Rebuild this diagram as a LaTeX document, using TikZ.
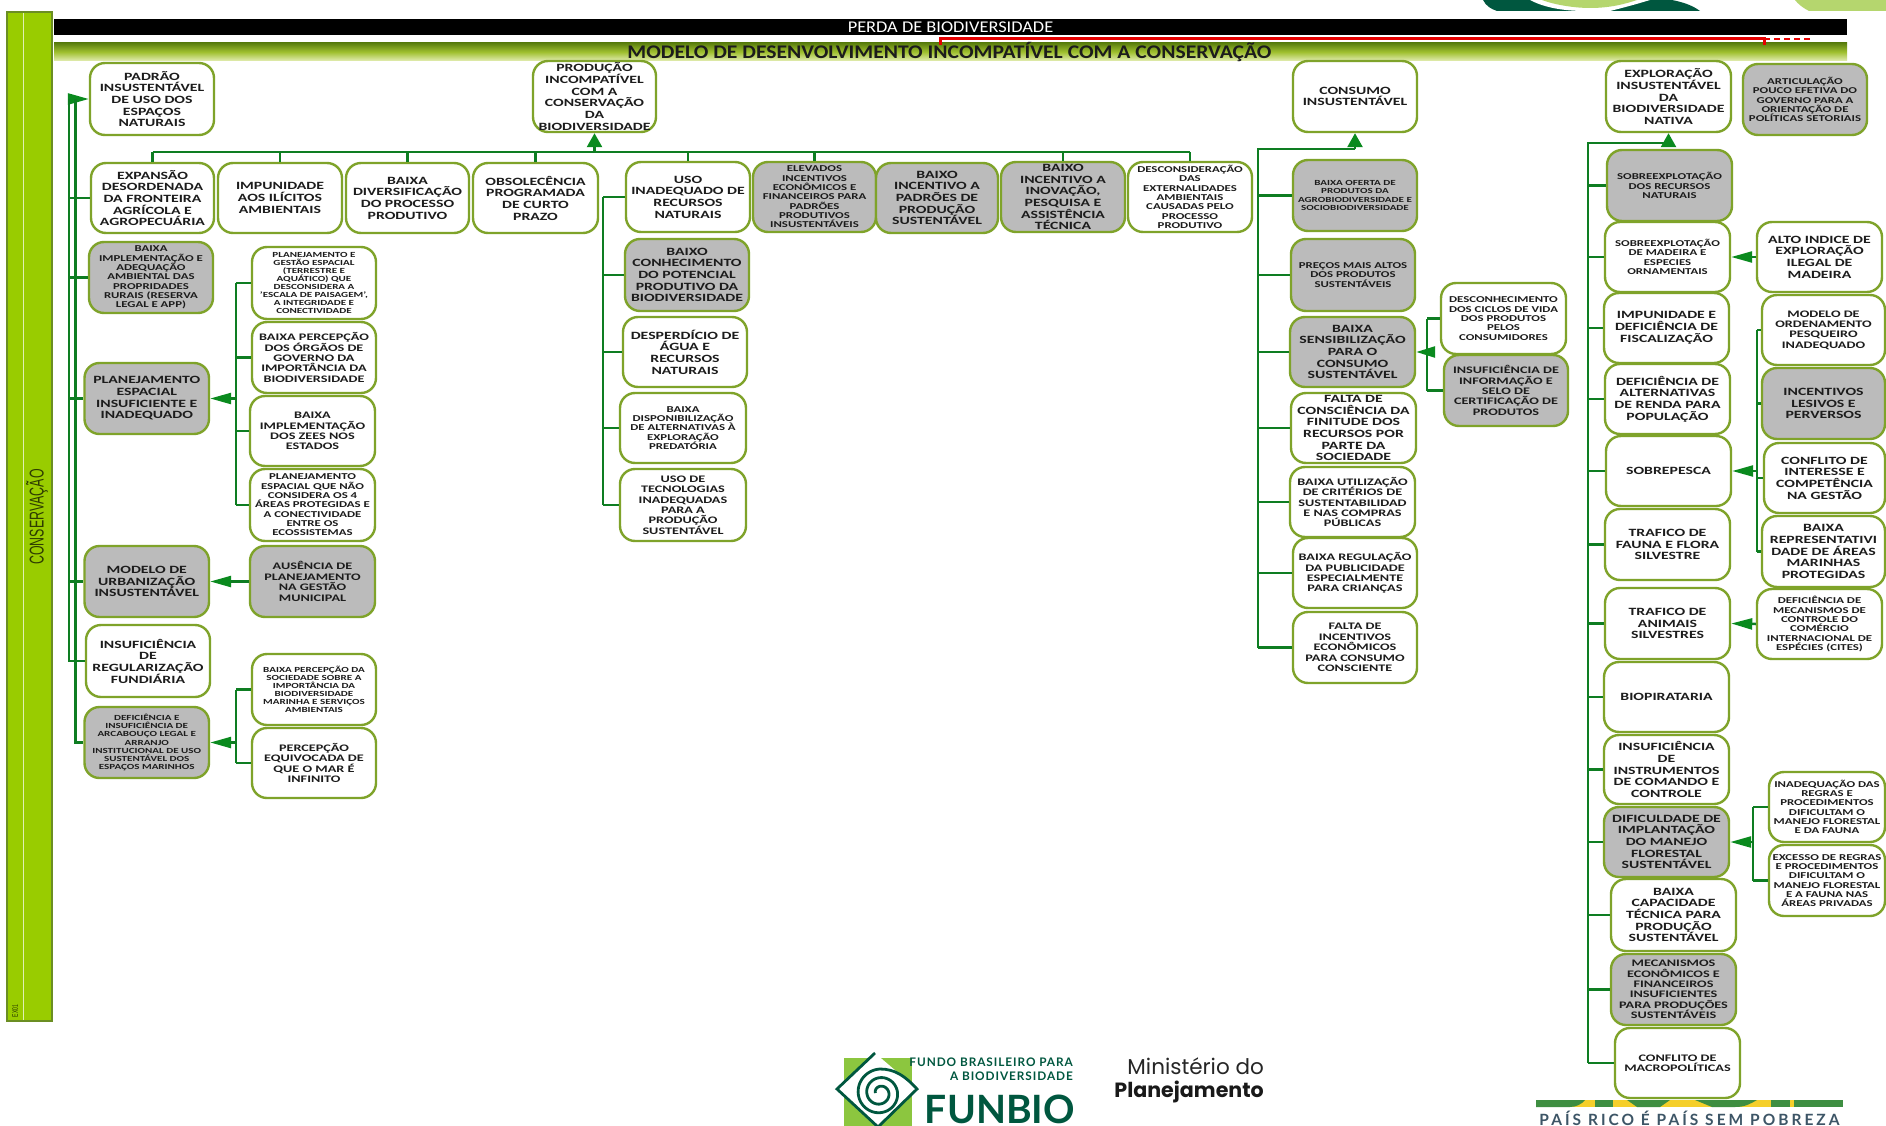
\documentclass[tikz,border=0pt]{standalone}
\usepackage{fontspec}
\setmainfont[FakeStretch=1.42]{Carlito}
\newfontfamily\narrowf[FakeStretch=0.62]{Liberation Sans}
\newfontfamily\titlef[FakeStretch=1.12]{Carlito}
\newfontfamily\logof{Lato}
\newfontfamily\logos[LetterSpace=8]{Lato}
\newfontfamily\lemaf[LetterSpace=19.5]{Lato}
\newfontfamily\minf{Poppins}
\usetikzlibrary{arrows.meta,calc}
\definecolor{edgeg}{HTML}{7FA32A}
\definecolor{grayf}{HTML}{BBBBBB}
\definecolor{linkg}{HTML}{0E7D22}
\definecolor{headg}{HTML}{0A8A1E}
\definecolor{barg}{HTML}{99CC00}
\definecolor{barb}{HTML}{6B8E23}
\definecolor{teal}{HTML}{00573F}
\definecolor{lightg}{HTML}{B5D66E}
\definecolor{squareg}{HTML}{8CC63F}
\definecolor{inkk}{HTML}{1C1C1C}
\definecolor{gradtop}{HTML}{5B7F0E}
\definecolor{gradmid}{HTML}{A0C030}
\definecolor{gradbot}{HTML}{E3EDB4}
\definecolor{slate}{HTML}{3D5566}
\definecolor{brgreen}{HTML}{3E8E41}
\definecolor{bryellow}{HTML}{F5CF2A}
\newcommand{\fL}{\fontsize{11.1}{11.67}\bfseries\selectfont}
\newcommand{\fM}{\fontsize{10}{10.4}\bfseries\selectfont}
\newcommand{\fS}{\fontsize{9}{9.33}\bfseries\selectfont}
\newcommand{\fX}{\fontsize{7.8}{8.1}\bfseries\selectfont}
\newcommand{\bx}[8]{%
  \pgfmathsetmacro{\cxx}{(#2+#4)/2}\pgfmathsetmacro{\cyy}{(#3+#5)/2}%
  \pgfmathsetmacro{\wxx}{#4-#2}\pgfmathsetmacro{\hyy}{#5-#3}%
  \node[#6,font=#7,minimum width=\wxx pt,minimum height=\hyy pt] (#1) at (\cxx,\cyy) {#8};}
\tikzset{
  cause/.style={draw=edgeg,line width=2.4pt,rounded corners=15pt,align=center,text=inkk,inner sep=0pt,fill=white},
  whitebox/.style={cause},
  graybox/.style={cause,fill=grayf},
  link/.style={draw=linkg,line width=2.5pt},
  arrowlink/.style={link,-{Triangle[length=21pt,width=11pt,color=headg]}},
  uplink/.style={link,-{Triangle[length=14pt,width=15pt,color=headg]}},
}
\begin{document}
\begin{tikzpicture}[x=1pt,y=-1pt]
\clip (0,0) rectangle (1886,1126);
\fill[white] (0,0) rectangle (1886,1126);
% top logo fragments
\fill[teal] (1483,0) .. controls (1486,6) and (1491,9) .. (1497,11) -- (1700,11) .. controls (1692,5) and (1682,2) .. (1672,0) -- cycle;
\fill[white] (1530,0) .. controls (1545,8) and (1565,11) .. (1585,11) -- (1610,11) .. controls (1630,6) and (1640,3) .. (1650,0) -- cycle;
\fill[lightg] (1542,0) .. controls (1555,5) and (1575,8) .. (1590,8) .. controls (1610,8) and (1625,4) .. (1637,0) -- cycle;
\fill[lightg] (1795,0) -- (1886,0) -- (1886,11) -- (1809,11) .. controls (1803,8) and (1798,4) .. cycle;
% bars
\node[draw=barb,fill=barg,line width=1.4pt,minimum width=45pt,minimum height=1009pt,inner sep=0pt] (sidebar) at (29.5,516.5) {};
\draw[white!70!barg,line width=.7pt] (23,13) -- (23,1020);
\node[rotate=90,text=black!70!barg,font=\narrowf\fontsize{20}{20}\selectfont,inner sep=0pt] (conserv) at (37,517) {CONSERVAÇÃO};
\node[rotate=90,text=black!75!barg,font=\narrowf\fontsize{8}{8}\selectfont,inner sep=0pt] (exlab) at (15,1011) {EX01};
\node[fill=black,minimum width=1793pt,minimum height=16pt,inner sep=0pt,text=white,font=\titlef\fontsize{16.4}{16}\selectfont] (perda) at (950.5,27) {PERDA DE BIODIVERSIDADE};
\fill[top color=gradtop,bottom color=gradbot,middle color=gradmid] (54,43) rectangle (1847,61);
\node[font=\titlef\fontsize{19.3}{18}\bfseries\selectfont,text=inkk,inner sep=0pt] (modelo) at (949.5,52) {MODELO DE DESENVOLVIMENTO INCOMPATÍVEL COM A CONSERVAÇÃO};
% red bracket
\coordinate (redA) at (940,45);
\coordinate (redB) at (1764,45);
\coordinate (redC) at (1812,39);
\draw[red!90!black,line width=3pt] (redA) -- (940,39) -- (1764,39) -- (redB);
\draw[red!90!black,line width=2.6pt,dash pattern=on 6pt off 4pt] (1764,39) -- (redC);
% ---- column 1
\bx{padrao}{90}{63}{214}{135}{whitebox}{\fL}{PADRÃO\\INSUSTENTÁVEL\\DE USO DOS\\ESPAÇOS\\NATURAIS}
\bx{expansao}{91}{163}{214}{233}{whitebox}{\fL}{EXPANSÃO\\DESORDENADA\\DA FRONTEIRA\\AGRÍCOLA E\\AGROPECUÁRIA}
\bx{impun}{218}{163}{342}{233}{whitebox}{\fL}{IMPUNIDADE\\AOS ILÍCITOS\\AMBIENTAIS}
\bx{divers}{346}{163}{469}{233}{whitebox}{\fL}{BAIXA\\DIVERSIFICAÇÃO\\DO PROCESSO\\PRODUTIVO}
\bx{obsol}{473}{163}{598}{233}{whitebox}{\fL}{OBSOLECÊNCIA\\PROGRAMADA\\DE CURTO\\PRAZO}
\bx{producao}{533}{61}{656}{132}{whitebox}{\fL}{PRODUÇÃO\\INCOMPATÍVEL\\COM A\\CONSERVAÇÃO\\DA\\BIODIVERSIDADE}
\bx{bimpl}{89}{242}{213}{313}{graybox}{\fS}{BAIXA\\IMPLEMENTAÇÃO E\\ADEQUAÇÃO\\AMBIENTAL DAS\\PROPRIDADES\\RURAIS (RESERVA\\LEGAL E APP)}
\bx{pgest}{252}{247}{376}{319}{whitebox}{\fX}{PLANEJAMENTO E\\GESTÃO ESPACIAL\\(TERRESTRE E\\AQUÁTICO) QUE\\DESCONSIDERA A\\'ESCALA DE PAISAGEM',\\A INTEGRIDADE E\\CONECTIVIDADE}
\bx{bperc}{252}{322}{376}{393}{whitebox}{\fM}{BAIXA PERCEPÇÃO\\DOS ÓRGÃOS DE\\GOVERNO DA\\IMPORTÂNCIA DA\\BIODIVERSIDADE}
\bx{pesp}{84.5}{363}{209}{434}{graybox}{\fL}{PLANEJAMENTO\\ESPACIAL\\INSUFICIENTE E\\INADEQUADO}
\bx{zees}{250}{396}{375}{466}{whitebox}{\fM}{BAIXA\\IMPLEMENTAÇÃO\\DOS ZEES NOS\\ESTADOS}
\bx{pnao}{250}{469}{375}{541}{whitebox}{\fS}{PLANEJAMENTO\\ESPACIAL QUE NÃO\\CONSIDERA OS 4\\ÁREAS PROTEGIDAS E\\A CONECTIVIDADE\\ENTRE OS\\ECOSSISTEMAS}
\bx{urban}{84.5}{546}{209}{617}{graybox}{\fL}{MODELO DE\\URBANIZAÇÃO\\INSUSTENTÁVEL}
\bx{ausenc}{250}{546}{375}{617}{graybox}{\fM}{AUSÊNCIA DE\\PLANEJAMENTO\\NA GESTÃO\\MUNICIPAL}
\bx{regul}{86}{625}{210}{697}{whitebox}{\fL}{INSUFICIÊNCIA\\DE\\REGULARIZAÇÃO\\FUNDIÁRIA}
\bx{arcab}{84.5}{707}{209}{778}{graybox}{\fX}{DEFICIÊNCIA E\\INSUFICIÊNCIA DE\\ARCABOUÇO LEGAL E\\ARRANJO\\INSTITUCIONAL DE USO\\SUSTENTÁVEL DOS\\ESPAÇOS MARINHOS}
\bx{bsoc}{252}{654}{376}{725}{whitebox}{\fX}{BAIXA PERCEPÇÃO DA\\SOCIEDADE SOBRE A\\IMPORTÂNCIA DA\\BIODIVERSIDADE\\MARINHA E SERVIÇOS\\AMBIENTAIS}
\bx{pequiv}{252}{728}{376}{798}{whitebox}{\fM}{PERCEPÇÃO\\EQUIVOCADA DE\\QUE O MAR É\\INFINITO}
% ---- column 2
\bx{uso}{626}{162}{750}{232}{whitebox}{\fL}{USO\\INADEQUADO DE\\RECURSOS\\NATURAIS}
\bx{elev}{753}{162}{876}{232}{graybox}{\fS}{ELEVADOS\\INCENTIVOS\\ECONÔMICOS  E\\FINANCEIROS PARA\\PADRÕES\\PRODUTIVOS\\INSUSTENTÁVEIS}
\bx{bpadr}{876}{163}{998}{233}{graybox}{\fL}{BAIXO\\INCENTIVO A\\PADRÕES DE\\PRODUÇÃO\\SUSTENTÁVEL}
\bx{binov}{1001}{162}{1125}{232}{graybox}{\fL}{BAIXO\\INCENTIVO A\\INOVAÇÃO,\\PESQUISA E\\ASSISTÊNCIA\\TÉCNICA}
\bx{descons}{1128}{162}{1252}{232}{whitebox}{\fS}{DESCONSIDERAÇÃO\\DAS\\EXTERNALIDADES\\AMBIENTAIS\\CAUSADAS PELO\\PROCESSO\\PRODUTIVO}
\bx{bconh}{625}{239}{749}{311}{graybox}{\fL}{BAIXO\\CONHECIMENTO\\DO POTENCIAL\\PRODUTIVO DA\\BIODIVERSIDADE}
\bx{desp}{623}{317}{747}{387}{whitebox}{\fL}{DESPERDÍCIO DE\\ÁGUA E\\RECURSOS\\NATURAIS}
\bx{bdisp}{620}{393}{746}{463}{whitebox}{\fS}{BAIXA\\DISPONIBILIZAÇÃO\\DE ALTERNATIVAS À\\EXPLORAÇÃO\\PREDATÓRIA}
\bx{tecn}{620}{469}{746}{541}{whitebox}{\fM}{USO DE\\TECNOLOGIAS\\INADEQUADAS\\PARA A\\PRODUÇÃO\\SUSTENTÁVEL}
% ---- column 3
\bx{consumo}{1293}{61}{1417}{132}{whitebox}{\fL}{CONSUMO\\INSUSTENTÁVEL}
\bx{boferta}{1293}{160}{1417}{231}{graybox}{\fX}{BAIXA OFERTA DE\\PRODUTOS  DA\\AGROBIODIVERSIDADE E\\SOCIOBIODIVERSIDADE}
\bx{precos}{1291}{239}{1415}{311}{graybox}{\fS}{PREÇOS MAIS ALTOS\\DOS PRODUTOS\\SUSTENTÁVEIS}
\bx{bsens}{1290}{317}{1415}{387}{graybox}{\fL}{BAIXA\\SENSIBILIZAÇÃO\\PARA O\\CONSUMO\\SUSTENTÁVEL}
\bx{fconsc}{1291}{393}{1416}{463}{whitebox}{\fL}{FALTA DE\\CONSCIÊNCIA DA\\FINITUDE DOS\\RECURSOS POR\\PARTE DA\\SOCIEDADE}
\bx{butil}{1290}{467}{1415}{537}{whitebox}{\fM}{BAIXA UTILIZAÇÃO\\DE CRITÉRIOS DE\\SUSTENTABILIDAD\\E NAS COMPRAS\\PÚBLICAS}
\bx{bregul}{1293}{538}{1417}{608}{whitebox}{\fM}{BAIXA REGULAÇÃO\\DA PUBLICIDADE\\ESPECIALMENTE\\PARA CRIANÇAS}
\bx{fincen}{1293}{612}{1417}{683}{whitebox}{\fM}{FALTA DE\\INCENTIVOS\\ECONÔMICOS\\PARA CONSUMO\\CONSCIENTE}
\bx{descon}{1441}{283}{1566}{354}{whitebox}{\fS}{DESCONHECIMENTO\\DOS CICLOS DE VIDA\\DOS PRODUTOS\\PELOS\\CONSUMIDORES}
\bx{insinf}{1444}{355}{1568}{426}{graybox}{\fM}{INSUFICIÊNCIA DE\\INFORMAÇÃO E\\SELO DE\\CERTIFICAÇÃO DE\\PRODUTOS}
% ---- column 4
\bx{explor}{1606}{61}{1731}{132}{whitebox}{\fL}{EXPLORAÇÃO\\INSUSTENTÁVEL\\DA\\BIODIVERSIDADE\\NATIVA}
\bx{artic}{1743}{64}{1867}{135}{graybox}{\fS}{ARTICULAÇÃO\\POUCO EFETIVA DO\\GOVERNO PARA A\\ORIENTAÇÃO DE\\POLÍTICAS SETORIAIS}
\bx{srec}{1607}{150}{1732}{221}{graybox}{\fS}{SOBREEXPLOTAÇÃO\\DOS RECURSOS\\NATURAIS}
\bx{smad}{1605}{222}{1730}{292}{whitebox}{\fS}{SOBREEXPLOTAÇÃO\\DE MADEIRA E\\ESPECIES\\ORNAMENTAIS}
\bx{ifisc}{1604}{293}{1729}{363}{whitebox}{\fL}{IMPUNIDADE E\\DEFICIÊNCIA DE\\FISCALIZAÇÃO}
\bx{dalt}{1605}{364}{1730}{434}{whitebox}{\fL}{DEFICIÊNCIA DE\\ALTERNATIVAS\\DE RENDA PARA\\POPULAÇÃO}
\bx{sobrep}{1606}{436}{1731}{506}{whitebox}{\fL}{SOBREPESCA}
\bx{tfauna}{1605}{509}{1730}{580}{whitebox}{\fL}{TRAFICO DE\\FAUNA E FLORA\\SILVESTRE}
\bx{tanim}{1605}{588}{1730}{659}{whitebox}{\fL}{TRAFICO DE\\ANIMAIS\\SILVESTRES}
\bx{biopir}{1604}{662}{1729}{732}{whitebox}{\fL}{BIOPIRATARIA}
\bx{instr}{1604}{735}{1729}{804}{whitebox}{\fL}{INSUFICIÊNCIA\\DE\\INSTRUMENTOS\\DE COMANDO E\\CONTROLE}
\bx{dific}{1604}{807}{1729}{877}{graybox}{\fL}{DIFICULDADE DE\\IMPLANTAÇÃO\\DO MANEJO\\FLORESTAL\\SUSTENTÁVEL}
\bx{bcap}{1611}{879}{1736}{951}{whitebox}{\fL}{BAIXA\\CAPACIDADE\\TÉCNICA PARA\\PRODUÇÃO\\SUSTENTÁVEL}
\bx{mecan}{1611}{954}{1736}{1025}{graybox}{\fM}{MECANISMOS\\ECONÔMICOS E\\FINANCEIROS\\INSUFICIENTES\\PARA PRODUÇÕES\\SUSTENTÁVEIS}
\bx{macro}{1615}{1028}{1740}{1098}{whitebox}{\fM}{CONFLITO DE\\MACROPOLÍTICAS}
\bx{alto}{1757}{222}{1882}{292}{whitebox}{\fL}{ALTO INDICE DE\\EXPLORAÇÃO\\ILEGAL DE\\MADEIRA}
\bx{mord}{1762}{295}{1885}{365}{whitebox}{\fM}{MODELO DE\\ORDENAMENTO\\PESQUEIRO\\INADEQUADO}
\bx{incent}{1762}{368}{1885}{439}{graybox}{\fL}{INCENTIVOS\\LESIVOS E\\PERVERSOS}
\bx{cinter}{1764}{443}{1885}{513}{whitebox}{\fL}{CONFLITO DE\\INTERESSE E\\COMPETÊNCIA\\NA GESTÃO}
\bx{brepr}{1762}{516}{1885}{587}{whitebox}{\fL}{BAIXA\\REPRESENTATIVI\\DADE DE ÁREAS\\MARINHAS\\PROTEGIDAS}
\bx{dmec}{1757}{589}{1882}{659}{whitebox}{\fS}{DEFICIÊNCIA DE\\MECANISMOS DE\\CONTROLE DO\\COMÉRCIO\\INTERNACIONAL DE\\ESPÉCIES (CITES)}
\bx{inadeq}{1769}{772}{1885}{842}{whitebox}{\fS}{INADEQUAÇÃO DAS\\REGRAS E\\PROCEDIMENTOS\\DIFICULTAM O\\MANEJO FLORESTAL\\E DA FAUNA}
\bx{exces}{1769}{845}{1885}{916}{whitebox}{\fS}{EXCESSO DE REGRAS\\E PROCEDIMENTOS\\DIFICULTAM O\\MANEJO FLORESTAL\\E A FAUNA NAS\\ÁREAS PRIVADAS}
% ---- connectors: trunks
\coordinate (tA) at (69,99);
\coordinate (tB) at (75.5,99);
\coordinate (bus) at (595,152);
\coordinate (tC) at (236,398);
\coordinate (tD) at (236,743);
\coordinate (tE) at (603,197);
\coordinate (tF) at (1258,149);
\coordinate (tG) at (1588,143);
\coordinate (tH) at (1427,352);
\coordinate (tI) at (1757,471);
\coordinate (tJ) at (1753,842);
% column 1 main trunks
\draw[arrowlink] (tA |- padrao.west) -- (padrao.west);
\draw[link] (tB |- padrao.west) -- (tB |- arcab.west) -- (arcab.west);
\draw[link] (tA |- padrao.west) -- (tA |- regul.west) -- (regul.west);
\foreach \n in {expansao,bimpl,pesp,urban}{\draw[link] (tA |- \n.west) -- (\n.west);}
% planejamento espacial children
\draw[link] (tC |- pgest.west) -- (tC |- pnao.west);
\foreach \n in {pgest,bperc,zees,pnao}{\draw[link] (tC |- \n.west) -- (\n.west);}
\draw[arrowlink] (tC |- pesp.east) -- (pesp.east);
\draw[arrowlink] (ausenc.west) -- (urban.east);
% arcabouço children
\draw[link] (tD |- bsoc.west) -- (tD |- pequiv.west);
\foreach \n in {bsoc,pequiv}{\draw[link] (tD |- \n.west) -- (\n.west);}
\draw[arrowlink] (tD |- arcab.east) -- (arcab.east);
% production bus
\draw[link] (expansao.north |- bus) -- (descons.north |- bus);
\foreach \n in {expansao,impun,divers,obsol,uso,elev,binov,descons}{\draw[link] (\n.north) -- (\n.north |- bus);}
\draw[uplink] (producao.south |- bus) -- (producao.south);
% uso children
\draw[link] (tE |- uso.west) -- (tE |- tecn.west);
\foreach \n in {uso,bconh,desp,bdisp,tecn}{\draw[link] (tE |- \n.west) -- (\n.west);}
% consumo
\draw[link] (consumo.south |- tF) -- (tF) -- (tF |- fincen.west);
\draw[uplink] (consumo.south |- tF) -- (consumo.south);
\foreach \n in {boferta,precos,bsens,fconsc,butil,bregul,fincen}{\draw[link] (tF |- \n.west) -- (\n.west);}
\draw[link] (tH |- descon.west) -- (tH |- insinf.west);
\foreach \n in {descon,insinf}{\draw[link] (tH |- \n.west) -- (\n.west);}
\draw[link,-{Triangle[length=19pt,width=11pt,color=headg]}] (tH |- bsens.east) -- (bsens.east);
% exploração
\draw[link] (explor.south |- tG) -- (tG) -- (tG |- macro.west);
\draw[uplink] (explor.south |- tG) -- (explor.south);
\foreach \n in {srec,smad,ifisc,dalt,sobrep,tfauna,tanim,biopir,instr,dific,bcap,mecan,macro}{\draw[link] (tG |- \n.west) -- (\n.west);}
\draw[arrowlink] (alto.west) -- (smad.east);
\draw[link] (tI |- mord.west) -- (tI |- brepr.west);
\foreach \n in {mord,incent,cinter,brepr}{\draw[link] (tI |- \n.west) -- (\n.west);}
\draw[arrowlink] (tI |- sobrep.east) -- (sobrep.east);
\draw[arrowlink] (dmec.west) -- (tanim.east);
\draw[link] (tJ |- inadeq.west) -- (tJ |- exces.west);
\foreach \n in {inadeq,exces}{\draw[link] (tJ |- \n.west) -- (\n.west);}
\draw[arrowlink] (tJ |- dific.east) -- (dific.east);
% ---- FUNBIO logo
\fill[squareg] (844,1058) rectangle (912,1126);
\fill[white] (837,1089) -- (875,1053) -- (917,1089) -- (878,1127) -- cycle;
\draw[teal,line width=2.8pt,line join=miter] (875,1053) -- (837,1089) -- (878,1127) -- (917,1089) .. controls (905,1076) and (895,1069) .. (880,1069);
\draw[teal,line width=2.8pt,domain=0:810,samples=140,smooth,variable=\t] plot ({880+(24-0.024*\t)*cos(\t+90)},{1093-(24-0.024*\t)*sin(\t+90)});
\node[font=\logof\fontsize{11.8}{13}\bfseries\selectfont,text=teal,anchor=east,inner sep=0pt] (fb1) at (1073,1062) {\logos FUNDO BRASILEIRO PARA};
\node[font=\logof\fontsize{11.8}{13}\bfseries\selectfont,text=teal,anchor=east,inner sep=0pt] (fb2) at (1073,1076) {\logos A BIODIVERSIDADE};
\node[font=\logof\fontsize{39}{40}\bfseries\selectfont,text=teal,anchor=east,inner sep=0pt] (funbio) at (1075,1109) {FUNBIO};
\node[font=\minf\fontsize{21.5}{22}\selectfont,text=black!85,anchor=east,inner sep=0pt] (minis) at (1264,1066) {Ministério do};
\node[font=\minf\fontsize{20.6}{22}\bfseries\selectfont,text=black!90,anchor=east,inner sep=0pt] (plane) at (1264,1092) {Planejamento};
% ---- Brasil logo
\fill[bryellow] (1536,1100) rectangle (1843,1107);
\fill[brgreen] (1536,1100) -- (1585,1100) .. controls (1582,1104) and (1576,1107) .. (1570,1107) -- (1536,1107) -- cycle;
\fill[brgreen] (1595,1100) rectangle (1613,1107);
\fill[brgreen] (1627,1100) -- (1670,1100) -- (1660,1107) -- (1637,1107) -- cycle;
\fill[brgreen] (1695,1100) -- (1757,1100) .. controls (1750,1104) and (1745,1107) .. (1735,1107) -- (1712,1107) -- cycle;
\fill[brgreen] (1771,1100) rectangle (1790,1107);
\fill[brgreen] (1794,1100) rectangle (1843,1107);
\node[font=\lemaf\fontsize{15.5}{16}\bfseries\selectfont,text=slate,anchor=center,inner sep=0pt] (lema) at (1689.5,1118) {PAÍS RICO É PAÍS SEM POBREZA};
\end{tikzpicture}
\end{document}
